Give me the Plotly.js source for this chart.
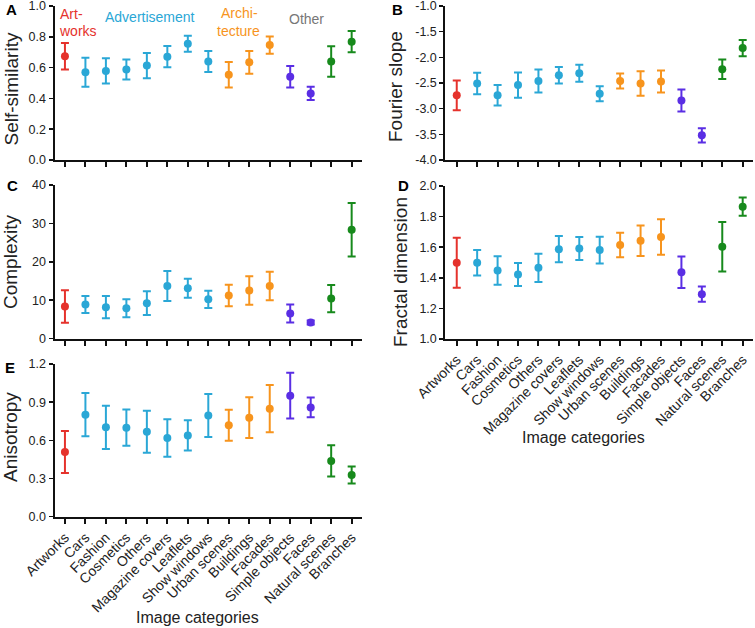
<!DOCTYPE html>
<html><head><meta charset="utf-8">
<script src="https://cdn.plot.ly/plotly-3.0.1.min.js"></script>
<style>html,body{margin:0;padding:0;background:#fff;}#chart{width:755px;height:628px;}</style>
</head><body><div id="chart"></div>
<script>
// ---- Data ----
const categories = ['Artworks','Cars','Fashion','Cosmetics','Others','Magazine covers','Leaflets','Show windows','Urban scenes','Buildings','Facades','Simple objects','Faces','Natural scenes','Branches'];
const groupOf = [0,1,1,1,1,1,1,1,2,2,2,3,3,4,4];
const groupColors = ['#e5322c','#2aa7d6','#f7941d','#5a2ee4','#178a1c'];

const selfSimMean = [0.673,0.570,0.578,0.587,0.613,0.671,0.755,0.639,0.553,0.634,0.746,0.540,0.432,0.639,0.768];
const selfSimErr  = [0.086,0.094,0.082,0.065,0.082,0.069,0.052,0.068,0.083,0.074,0.056,0.070,0.043,0.099,0.069];

const fourierMean = [-2.74,-2.51,-2.74,-2.54,-2.46,-2.35,-2.31,-2.71,-2.46,-2.51,-2.47,-2.84,-3.52,-2.23,-1.82];
const fourierErr  = [0.29,0.21,0.20,0.245,0.225,0.16,0.165,0.145,0.145,0.24,0.215,0.215,0.14,0.19,0.16];

const complexMean = [8.35,8.87,8.17,7.9,9.2,13.7,13.1,10.2,11.2,12.5,13.7,6.5,4.17,10.4,28.35];
const complexErr  = [4.25,2.2,2.9,2.35,3.1,3.9,2.45,2.25,2.8,3.7,3.7,2.35,0.5,3.55,6.95];

const fractalMean = [1.498,1.498,1.448,1.421,1.465,1.587,1.592,1.581,1.614,1.642,1.666,1.437,1.293,1.603,1.865];
const fractalErr  = [0.163,0.083,0.093,0.075,0.093,0.086,0.075,0.088,0.080,0.100,0.116,0.103,0.050,0.162,0.060];

const anisoMean = [0.508,0.802,0.702,0.700,0.668,0.618,0.639,0.796,0.718,0.778,0.849,0.951,0.859,0.438,0.327];
const anisoErr  = [0.165,0.170,0.170,0.142,0.165,0.147,0.118,0.169,0.122,0.160,0.185,0.180,0.078,0.123,0.067];

const ticksA = ['0.0','0.2','0.4','0.6','0.8','1.0'];
const ticksB = ['-4.0','-3.5','-3.0','-2.5','-2.0','-1.5','-1.0'];
const ticksC = ['0','10','20','30','40'];
const ticksD = ['1.0','1.2','1.4','1.6','1.8','2.0'];
const ticksE = ['0.0','0.3','0.6','0.9','1.2'];

// ---- Build ----
const W = 755, H = 628;
const fx = p => p / W;
const fy = p => 1 - p / H;
const FONT = 'Liberation Sans, Arial, Helvetica, sans-serif';

const panels = [
  {mean: selfSimMean, err: selfSimErr, xa: 'x',  ya: 'y'},
  {mean: fourierMean, err: fourierErr, xa: 'x2', ya: 'y2'},
  {mean: complexMean, err: complexErr, xa: 'x3', ya: 'y3'},
  {mean: fractalMean, err: fractalErr, xa: 'x4', ya: 'y4'},
  {mean: anisoMean,   err: anisoErr,   xa: 'x5', ya: 'y5'}
];

const traces = [];
panels.forEach(p => {
  groupColors.forEach((col, g) => {
    const idx = categories.map((c, i) => i).filter(i => groupOf[i] === g);
    traces.push({
      type: 'scatter', mode: 'markers',
      x: idx, y: idx.map(i => p.mean[i]),
      error_y: {type: 'data', array: idx.map(i => p.err[i]), visible: true, color: col, thickness: 2, width: 4},
      marker: {size: 8, color: col},
      xaxis: p.xa, yaxis: p.ya, hoverinfo: 'skip', cliponaxis: false
    });
  });
});

const catIdx = categories.map((c, i) => i);
function xAxis(left, right, anchor, labels, r0) {
  return {
    domain: [fx(left), fx(right)], anchor: anchor, range: [r0, 14.49],
    tickvals: catIdx, ticktext: categories, showticklabels: labels,
    tickangle: -45, ticks: 'outside', ticklen: 5, tickwidth: 2, tickcolor: '#111',
    showline: true, linewidth: 2, linecolor: '#111', showgrid: false, zeroline: false,
    tickfont: {family: FONT, size: 14, color: '#222'}, fixedrange: true,
    ticklabeloverflow: 'allow'
  };
}
function yAxis(bot, top, anchor, range, labels) {
  const vals = labels.map(Number);
  return {
    domain: [fy(bot), fy(top)], anchor: anchor, range: range,
    tickvals: vals, ticktext: labels, ticks: 'outside', ticklen: 4, tickwidth: 1.5, tickcolor: '#111',
    showline: true, linewidth: 2, linecolor: '#111', showgrid: false, zeroline: false,
    tickfont: {family: FONT, size: 12.5, color: '#222'}, fixedrange: true,
    ticklabeloverflow: 'allow'
  };
}

const L1 = 54.5, R1 = 361.7, L2 = 445.3, R2 = 752.7;

function ann(text, x, y, size, color, opts) {
  return Object.assign({xref: 'paper', yref: 'paper', x: fx(x), y: fy(y), text: text, showarrow: false,
    xanchor: 'center', yanchor: 'middle', font: {family: FONT, size: size, color: color}}, opts || {});
}

const annotations = [
  ann('<b>A</b>', 11, 10, 15, '#000'),
  ann('<b>B</b>', 397, 10, 15, '#000'),
  ann('<b>C</b>', 12, 185, 15, '#000'),
  ann('<b>D</b>', 403, 185, 15, '#000'),
  ann('<b>E</b>', 10, 367, 15, '#000'),
  ann('Self-similarity', 11, 89.5, 19, '#222', {textangle: -90}),
  ann('Fourier slope', 395, 87, 19, '#222', {textangle: -90}),
  ann('Complexity', 10, 262, 19, '#222', {textangle: -90}),
  ann('Fractal dimension', 400, 272, 19, '#222', {textangle: -90}),
  ann('Anisotropy', 10, 437, 19, '#222', {textangle: -90}),
  ann('Image categories', 583, 437, 16, '#222'),
  ann('Image categories', 198, 617, 16, '#222'),
  ann('Art-', 71, 14, 14, groupColors[0]),
  ann('works', 78, 31, 14, groupColors[0]),
  ann('Advertisement', 150, 17.5, 14, groupColors[1]),
  ann('Archi-', 239, 13, 14, groupColors[2]),
  ann('tecture', 238, 31, 14, groupColors[2]),
  ann('Other', 306, 19, 14, '#777777')
];

const layout = {
  width: W, height: H, margin: {l: 0, r: 0, t: 0, b: 0},
  paper_bgcolor: '#fff', plot_bgcolor: 'rgba(0,0,0,0)', showlegend: false,
  font: {family: FONT},
  xaxis:  xAxis(L1, R1, 'y',  false, -0.51),
  yaxis:  yAxis(160, 6, 'x',  [0, 1], ticksA),
  xaxis2: xAxis(L2, R2, 'y2', false, -0.56),
  yaxis2: yAxis(160, 6, 'x2', [-4, -1], ticksB),
  xaxis3: xAxis(L1, R1, 'y3', false, -0.51),
  yaxis3: yAxis(338.5, 185, 'x3', [0, 40], ticksC),
  xaxis4: xAxis(L2, R2, 'y4', true, -0.56),
  yaxis4: yAxis(339, 186, 'x4', [1, 2], ticksD),
  xaxis5: xAxis(L1, R1, 'y5', true, -0.51),
  yaxis5: yAxis(516.7, 364, 'x5', [0, 1.2], ticksE),
  annotations: annotations
};

Plotly.newPlot('chart', traces, layout, {staticPlot: true, displayModeBar: false});
</script>
</body></html>
